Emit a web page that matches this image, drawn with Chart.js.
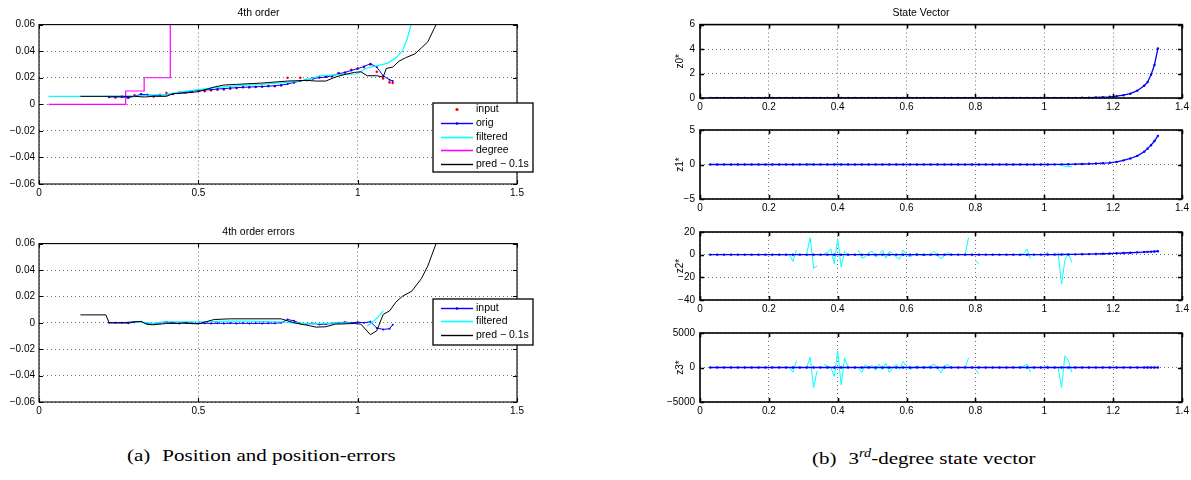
<!DOCTYPE html>
<html>
<head>
<meta charset="utf-8">
<script src="https://cdn.jsdelivr.net/npm/chart.js@4.4.1/dist/chart.umd.min.js"></script>
<style>
  body { margin: 0; background: #fff; width: 1191px; height: 480px; position: relative; overflow: hidden; }
  canvas { position: absolute; }
  .cap { position: absolute; font-family: "Liberation Serif", "DejaVu Serif", serif; font-size: 21px; color: #000;
         white-space: nowrap; transform: scaleY(0.82); transform-origin: left top; }
  .cap .sp { display: inline-block; width: 12px; }
  .cap .sup { font-size: 0.68em; font-style: italic; vertical-align: 0.6em; }
</style>
</head>
<body>
<canvas id="posTop" width="540" height="201" style="left:0;top:3px"></canvas>
<canvas id="posErr" width="540" height="200" style="left:0;top:222px"></canvas>
<canvas id="z0" width="534" height="115" style="left:660px;top:3px"></canvas>
<canvas id="z1" width="534" height="100" style="left:660px;top:119px"></canvas>
<canvas id="z2" width="534" height="99" style="left:660px;top:221px"></canvas>
<canvas id="z3" width="534" height="100" style="left:660px;top:322px"></canvas>
<div class="cap" style="left:127px;top:445px">(a)<span class="sp"></span>Position and position-errors</div>
<div class="cap" style="left:812px;top:446px">(b)<span class="sp"></span>3<span class="sup">rd</span>-degree state vector</div>
<script>
// ---- (a) position, 4th order ----
const posT = [0.22,0.24,0.26,0.28,0.30,0.32,0.34,0.36,0.38,0.40,
              0.42,0.44,0.46,0.48,0.50,0.52,0.54,0.56,0.58,0.60,
              0.62,0.64,0.66,0.68,0.70,0.72,0.74,0.76,0.78,0.80,
              0.82,0.84,0.86,0.88,0.90,0.92,0.94,0.96,0.98,1.00,
              1.02,1.04,1.06,1.08,1.10,1.11];
const posInput = [.0055,.0052,.0058,.0050,.0068,.0075,.0070,.0058,.0072,.0085,
                  .0078,.0088,.0090,.0098,.0100,.0098,.0105,.0110,.0112,.0118,
                  .0122,.0128,.0126,.0130,.0132,.0138,.0136,.0142,.0200,.0165,
                  .0200,.0182,.0195,.0205,.0210,.0212,.0235,.0238,.0260,.0270,
                  .0280,.0300,.0245,.0195,.0165,.0160];
const posOrig = [.0055,.0055,.0055,.0050,.0060,.0075,.0072,.0065,.0070,.0072,
                 .0078,.0085,.0092,.0100,.0105,.0108,.0110,.0115,.0118,.0122,
                 .0125,.0128,.0130,.0132,.0134,.0136,.0140,.0145,.0152,.0165,
                 .0175,.0185,.0195,.0200,.0205,.0215,.0230,.0240,.0255,.0268,
                 .0285,.0305,.0280,.0215,.0185,.0175];
const filtT = [0.03,0.30,0.34,0.40,0.45,0.50,0.55,0.60,0.65,0.70,0.75,0.80,0.85,
               0.88,0.92,0.96,1.00,1.025,1.05,1.07,1.095,1.12,1.14,1.155,1.17];
const posFilt = [.006,.006,.0068,.0075,.0095,.011,.0125,.0135,.0145,.015,.016,.017,.019,
                 .0215,.022,.0225,.023,.027,.0285,.0295,.031,.035,.040,.049,.062];
const degT = [0.03, 0.272, 0.33, 0.412];
const posDeg = [0, 0.01, 0.02, 0.08];
const predT = [0.13,0.30,0.33,0.36,0.40,0.42,0.46,0.50,0.55,0.58,0.62,0.70,0.78,0.84,0.87,0.90,
               0.93,0.96,0.99,1.01,1.03,1.06,1.08,1.09,1.11,1.13,1.15,1.18,1.20,1.22,1.246];
const posPred = [.006,.006,.0055,.006,.006,.008,.0085,.0095,.013,.0145,.015,.016,.0175,.018,.0175,.0175,
                 .0205,.0225,.024,.0245,.0215,.0215,.0205,.027,.028,.0325,.035,.038,.0425,.047,.06];

// ---- (a) errors ----
const errInput = [0,0,0,-.0003,.0005,.0008,-.0005,-.0008,0,.0008,
                  0,-.0005,.0003,-.0003,-.0005,-.0003,-.0005,-.0003,-.0005,-.0003,
                  -.0005,-.0003,-.0005,-.0004,-.0005,-.0003,-.0004,0,.0025,.0015,
                  -.0005,-.0008,-.0005,-.0012,-.001,-.0005,0,.0005,0,.0005,
                  0,.0008,-.004,-.005,-.0045,-.0015];
const errFiltT = [0.30,0.33,0.36,0.40,0.45,0.50,0.55,0.60,0.65,0.70,0.75,0.80,0.85,0.90,0.95,0.98,
                  1.00,1.03,1.05,1.07,1.08];
const errFilt = [.0005,.0002,-.0005,.0008,.0008,.0008,.001,.0012,.0012,.001,.0008,0,-.0008,-.0005,0,-.0003,
                 null,-.0025,.001,.006,.009];
const errPredT = [0.13,0.21,0.22,0.26,0.30,0.32,0.34,0.36,0.40,0.45,0.50,0.55,0.60,0.70,0.76,0.80,0.84,
                  0.87,0.90,0.93,0.96,0.99,1.01,1.04,1.06,1.08,1.10,1.12,1.14,1.17,1.20,1.22,1.246];
const errPred = [.006,.006,0,0,.0008,.001,-.0013,-.0015,-.0005,-.0003,-.0008,.0025,.003,.003,.003,0,-.0018,
                 -.0033,-.003,-.001,-.0008,-.0005,-.001,-.009,-.006,.0063,.009,.0157,.02,.024,.0335,.043,.06];

// ---- (b) state vector ----
const stateT = [0.03,0.05,0.07,0.09,0.11,0.13,0.15,0.17,0.19,0.21,
                0.23,0.25,0.27,0.29,0.31,0.33,0.35,0.37,0.39,0.41,
                0.43,0.45,0.47,0.49,0.51,0.53,0.55,0.57,0.59,0.61,
                0.63,0.65,0.67,0.69,0.71,0.73,0.75,0.77,0.79,0.81,
                0.83,0.85,0.87,0.89,0.91,0.93,0.95,0.97,0.99,1.01,
                1.03,1.05,1.07,1.09,1.11,1.13,1.15,1.17,1.19,1.21,
                1.23,1.25,1.27,1.29,1.30,1.31,1.32,1.33];
const z0State = [0,0,0,0,0,0,0,0,0,0, 0,0,0,0,0,0,0,0,0,0, 0,0,0,0,0,0,0,0,0,0,
                 0,0,0,0,0,0,0,0,0,0, 0,0,0,0,0,0,0,0,0,0,
                 0,0,0,0.01,0.02,0.03,0.05,0.07,0.1,0.15,
                 0.23,0.35,0.6,1.0,1.3,1.9,2.7,4.05];
const z1State = [0,0,0,0,0,0,0,0,0,0, 0,0,0,0,0,0,0,0,0,0, 0,0,0,0,0,0,0,0,0,0,
                 0,0,0,0,0,0,0,0,0,0, 0,0,0,0,0,0,0,0,0,0,
                 0.01,0.02,0.03,0.05,0.07,0.1,0.14,0.19,0.25,0.38,
                 0.6,0.87,1.25,1.85,2.3,2.8,3.4,4.15];
const z2State = [0,0,0,0,0,0,0,0,0,0, 0,0,0,0,0,0,0,0,0,0, 0,0,0,0,0,0,0,0,0,0,
                 0,0,0,0,0,0,0,0,0,0, 0,0,0,0,0,0,0,0.05,0.05,0.1,
                 0.1,0.15,0.2,0.3,0.4,0.5,0.65,0.8,1.0,1.2,
                 1.45,1.7,2.0,2.3,2.5,2.65,2.8,3.0];
const z3State = [0,0,0,0,0,0,0,0,0,0, 0,0,0,0,0,0,0,0,0,0, 0,0,0,0,0,0,0,0,0,0,
                 0,0,0,0,0,0,0,0,0,0, 0,0,0,0,0,0,0,0,0,0,
                 0,0,0,0,0,0,0,0,0,0, 0,0,0,0,0,0,0,0];
const filtTs = [0.22,0.23,0.24,0.25,0.26,0.27,0.28,0.29,0.30,0.31,
                0.32,0.33,0.34,0.35,0.36,0.37,0.38,0.39,0.40,0.41,
                0.42,0.43,0.44,0.45,0.46,0.47,0.48,0.49,0.50,0.51,
                0.52,0.53,0.54,0.55,0.56,0.57,0.58,0.59,0.60,0.61,
                0.62,0.63,0.64,0.65,0.66,0.67,0.68,0.69,0.70,0.71,
                0.72,0.73,0.74,0.75,0.76,0.77,0.78,0.79,0.80,0.81,
                0.82,0.83,0.84,0.85,0.86,0.87,0.88,0.89,0.90,0.91,
                0.92,0.93,0.94,0.95,0.96,0.97,0.98,0.99,1.00,1.01,
                1.02,1.03,1.04,1.05,1.06,1.07,1.08,1.09,1.10,1.11];
const z0Filt = [0,0,0,0,0,0,0,null,null,0,
                0,0,0,null,0,0,0,0,0,0,
                0,0,null,null,0,0,0,0,0,0,
                0,0,0,0,0,0,0,0,0,0,
                0,0,0,0,0,0,0,0,0,0,
                0,0,null,null,null,0,0,null,0,0,
                null,null,null,null,null,null,null,null,null,null,
                0,0,0,0,0,null,null,null,0,0,
                null,null,0,0,0,0,0,null,null,null];
const z1Filt = [0,0,0,0,0,0,0,null,null,0,
                0.1,0,0,null,0,0,0,0,0.1,0,
                0,0,null,null,0,0,0,0,0,0,
                0,0,0,0,0,0,0,0,0,0,
                0,0,0,0,0,0,0,0,0,0,
                0,0,null,null,null,0,0,null,0,0,
                null,null,null,null,null,null,null,null,null,null,
                0,0,0,0,0,null,null,null,0,0,
                null,null,0,-0.15,-0.25,-0.3,-0.3,null,null,null];
const z2Filt = [0,0,0,0,0,-6,4,null,null,1,
                15,-12,-10,null,1,2,5,-8,14,-11,
                3,0,null,null,4,-3,-2,2,3,-2,
                0,4,-3,3,1,-2,-4,4,0,-2,
                0,1,0,-1,0,0,3,-1,-3.5,-1,
                2,0,null,null,null,0,15,null,-5,-8,
                null,null,null,null,null,null,null,null,null,null,
                0,0,1,5,-3.5,null,null,null,0,2,
                null,null,2,-26,-5,1,-7,null,null,null];
const z3Filt = [0,0,0,0,0,-700,1000,null,null,0,
                1500,-2900,-500,null,450,200,0,-1300,2400,-2500,
                1400,0,null,null,0,-700,400,0,300,-400,
                500,-300,600,-700,0,500,-300,900,200,-300,
                0,200,0,100,0,200,500,-200,-800,300,
                400,0,null,null,null,0,1400,null,-300,-900,
                null,null,null,null,null,null,null,null,null,null,
                0,0,200,500,-700,null,null,null,0,300,
                null,null,0,-2900,1700,1000,-700,null,null,null];

const FONT = '"Liberation Sans", Arial, Helvetica, sans-serif';
Chart.defaults.font.family = FONT;
Chart.defaults.font.size = 10;
Chart.defaults.color = '#000';

const pts = (xs, ys) => xs.map((x, i) => ({ x, y: ys[i] }));
const fmt = v => Math.abs(v) < 1e-9 ? '0' : String(+v.toFixed(2)).replace('-', '\u2212');

// matlab-like box with inward ticks on all four sides
const axesBox = {
  id: 'axesBox',
  afterDatasetsDraw(chart, args, o) {
    const { ctx, chartArea: a, scales } = chart;
    ctx.save();
    ctx.strokeStyle = '#000';
    ctx.lineWidth = o.width || 1;
    ctx.beginPath();
    scales.x.ticks.forEach(t => {
      const px = Math.round(scales.x.getPixelForValue(t.value)) + 0.5;
      ctx.moveTo(px, a.bottom); ctx.lineTo(px, a.bottom - 4);
      ctx.moveTo(px, a.top); ctx.lineTo(px, a.top + 4);
    });
    scales.y.ticks.forEach(t => {
      const py = Math.round(scales.y.getPixelForValue(t.value)) + 0.5;
      ctx.moveTo(a.left, py); ctx.lineTo(a.left + 4, py);
      ctx.moveTo(a.right, py); ctx.lineTo(a.right - 4, py);
    });
    ctx.stroke();
    ctx.lineWidth = o.width || 1;
    ctx.strokeRect(a.left, a.top, a.right - a.left, a.bottom - a.top);
    ctx.restore();
  }
};

// legend box placed where matlab put it
const boxLegend = {
  id: 'boxLegend',
  afterDraw(chart, args, o) {
    if (!o.items) return;
    const c = chart.ctx;
    c.save();
    c.fillStyle = '#fff';
    c.fillRect(o.x, o.y, o.w, o.h);
    c.strokeStyle = '#000';
    c.lineWidth = 1.3;
    c.strokeRect(o.x, o.y, o.w, o.h);
    c.font = '10.5px ' + FONT;
    c.textBaseline = 'middle';
    o.items.forEach((idx, i) => {
      const ds = chart.data.datasets[idx];
      const y = Math.round(o.y + o.first + i * o.step) + 0.5;
      if (ds.showLine !== false) {
        c.strokeStyle = ds.borderColor;
        c.lineWidth = ds.borderWidth + 0.4;
        c.beginPath(); c.moveTo(o.x + 8, y); c.lineTo(o.x + 40, y); c.stroke();
      }
      if (ds.pointRadius > 0) {
        c.fillStyle = ds.pointBackgroundColor;
        c.beginPath(); c.arc(o.x + 24, y, ds.pointRadius + 0.3, 0, Math.PI * 2); c.fill();
      }
      c.fillStyle = '#000';
      c.fillText(ds.label, o.x + 43, y);
    });
    c.restore();
  }
};

function makeChart(id, cfg) {
  const grid = { color: 'rgba(0,0,0,0.55)', lineWidth: 1, drawTicks: false };
  const border = { display: false, dash: [1, 3] };
  return new Chart(document.getElementById(id), {
    type: 'line',
    data: { datasets: cfg.datasets },
    options: {
      responsive: false,
      animation: false,
      events: [],
      layout: { padding: cfg.pad },
      elements: { line: { tension: 0 } },
      scales: {
        x: {
          type: 'linear', min: cfg.x[0], max: cfg.x[1],
          ticks: { stepSize: cfg.x[2], padding: 3, maxRotation: 0, autoSkip: false, callback: fmt },
          grid, border,
          afterFit: s => { s.height = 20; }
        },
        y: {
          min: cfg.y[0], max: cfg.y[1],
          ticks: { stepSize: cfg.y[2], padding: cfg.yPad, autoSkip: false, callback: fmt },
          grid, border,
          title: cfg.yTitle ? { display: true, text: cfg.yTitle, font: { size: 10 }, padding: { top: 14, bottom: 0 } } : { display: false },
          afterFit: s => { s.width = cfg.axisW; }
        }
      },
      plugins: {
        legend: { display: false },
        tooltip: { enabled: false },
        title: cfg.title
          ? { display: true, text: cfg.title, color: '#000', font: { size: 10.5, weight: 'normal' }, padding: { top: 4, bottom: 5 } }
          : { display: false },
        axesBox: { width: cfg.boxW },
        boxLegend: cfg.legend || {}
      }
    },
    plugins: [axesBox, boxLegend]
  });
}

const line = (label, xs, ys, color, extra) => Object.assign({
  label, data: pts(xs, ys), borderColor: color, backgroundColor: color,
  pointBackgroundColor: color, borderWidth: 1, pointRadius: 0, pointBorderWidth: 0, spanGaps: false
}, extra || {});

makeChart('posTop', {
  title: '4th order', x: [0, 1.5, 0.5], y: [-0.06, 0.06, 0.02], axisW: 39, yPad: 4,
  pad: { right: 23 }, boxW: 1.1,
  datasets: [
    line('input', posT, posInput, '#ff0000', { showLine: false, pointRadius: 1.3, order: 5 }),
    line('orig', posT, posOrig, '#0000ff', { pointRadius: 1, order: 4 }),
    line('filtered', filtT, posFilt, '#00ffff', { borderWidth: 1.2, order: 3 }),
    line('degree', degT, posDeg, '#ff00ff', { borderWidth: 1.2, stepped: 'before', order: 2 }),
    line('pred \u2212 0.1s', predT, posPred, '#000000', { order: 1 })
  ],
  legend: { items: [0, 1, 2, 3, 4], x: 433, y: 100, w: 100, h: 69, first: 6, step: 13.8 }
});

makeChart('posErr', {
  title: '4th order errors', x: [0, 1.5, 0.5], y: [-0.06, 0.06, 0.02], axisW: 39, yPad: 4,
  pad: { right: 23 }, boxW: 1.1,
  datasets: [
    line('input', posT, errInput, '#0000ff', { pointRadius: 1, order: 3 }),
    line('filtered', errFiltT, errFilt, '#00ffff', { borderWidth: 1.2, order: 2 }),
    line('pred \u2212 0.1s', errPredT, errPred, '#000000', { order: 1 })
  ],
  legend: { items: [0, 1, 2], x: 433, y: 77, w: 100, h: 46, first: 8.5, step: 13.8 }
});

const stateCharts = [
  ['z0', 'z0*', z0State, z0Filt, [0, 6, 2], 'State Vector', { right: 12 }],
  ['z1', 'z1*', z1State, z1Filt, [-5, 5, 5], null, { right: 12, top: 8 }],
  ['z2', 'z2*', z2State, z2Filt, [-40, 20, 20], null, { right: 12, top: 8 }],
  ['z3', 'z3*', z3State, z3Filt, [-5000, 5000, 5000], null, { right: 12, top: 8 }]
];
stateCharts.forEach(([id, name, st, fl, yr, title, pad]) => {
  makeChart(id, {
    title, x: [0, 1.4, 0.2], y: yr, axisW: 40, yPad: 5, yTitle: name, pad, boxW: 1.6,
    datasets: [
      line(name, stateT, st, '#0000ff', { borderWidth: 1.3, pointRadius: 1.2, order: 1 }),
      line(name + ' filtered', filtTs, fl, '#00ffff', { order: 2 })
    ]
  });
});
</script>
</body>
</html>
